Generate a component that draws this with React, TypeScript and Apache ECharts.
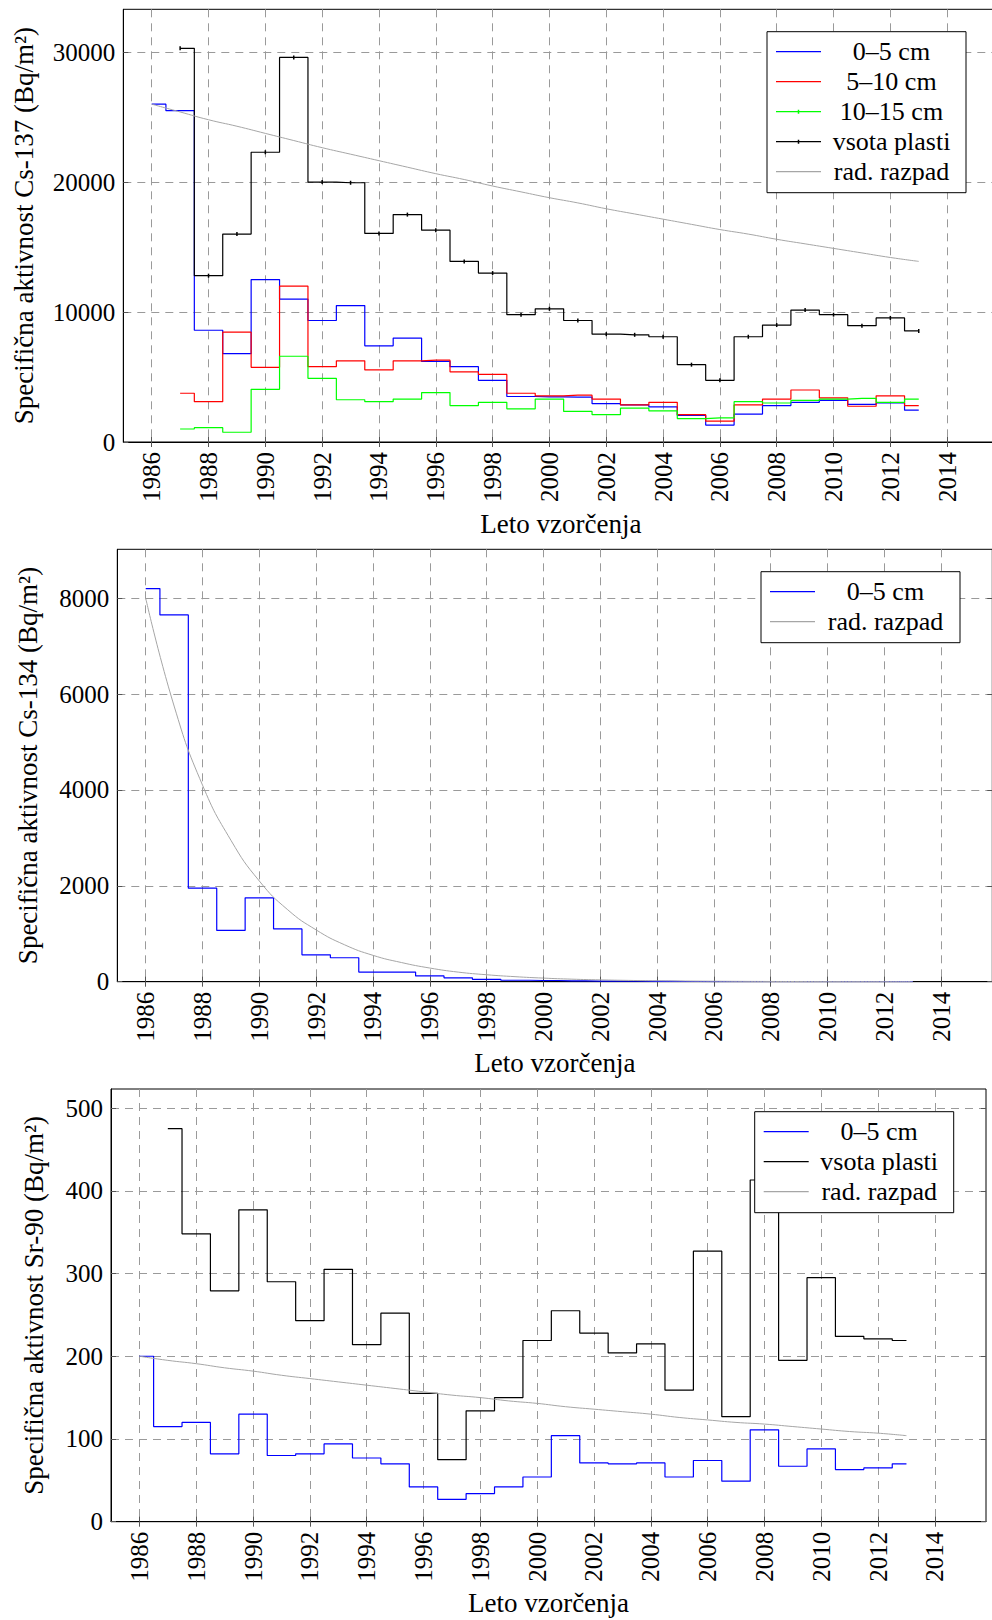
import React, { useEffect, useRef } from 'react';
import * as echarts from 'echarts';

const FONT = '"Liberation Serif", "Times New Roman", serif';

const years86 = [1986, 1987, 1988, 1989, 1990, 1991, 1992, 1993, 1994, 1995, 1996, 1997, 1998, 1999, 2000, 2001, 2002, 2003, 2004, 2005, 2006, 2007, 2008, 2009, 2010, 2011, 2012, 2013];
const years87 = [1987, 1988, 1989, 1990, 1991, 1992, 1993, 1994, 1995, 1996, 1997, 1998, 1999, 2000, 2001, 2002, 2003, 2004, 2005, 2006, 2007, 2008, 2009, 2010, 2011, 2012, 2013];

// Cs-137 (Bq/m2)
const cs137_0_5 = [26000, 25500, 8600, 6800, 12500, 11000, 9350, 10500, 7400, 8000, 6200, 5800, 4750, 3500, 3470, 3460, 2950, 2850, 2700, 2050, 1300, 2150, 2800, 3050, 3200, 2900, 3000, 2450];
const cs137_5_10 = [3750, 3100, 8450, 5750, 12000, 5800, 6250, 5550, 6250, 6300, 5400, 5200, 3750, 3550, 3600, 3300, 2850, 3050, 2100, 1600, 2850, 3300, 4000, 3400, 2750, 3550, 2800];
const cs137_10_15 = [1000, 1100, 750, 4050, 6600, 4900, 3250, 3100, 3300, 3800, 2800, 3050, 2550, 3300, 2350, 2100, 2600, 2400, 1800, 1850, 3100, 3000, 3200, 3300, 3350, 3050, 3300];
const cs137_sum = [30300, 12800, 16000, 22300, 29600, 20000, 19950, 16050, 17500, 16300, 13900, 13000, 9800, 10250, 9350, 8300, 8250, 8100, 5950, 4750, 8100, 9000, 10150, 9800, 8950, 9550, 8550];
const cs137_decay = [26000, 25400, 24800, 24300, 23750, 23200, 22650, 22150, 21650, 21150, 20650, 20200, 19700, 19250, 18800, 18400, 17950, 17550, 17150, 16750, 16350, 16000, 15600, 15250, 14900, 14550, 14200, 13900];

// Cs-134 (Bq/m2)
const cs134_0_5 = [8200, 7650, 1950, 1070, 1750, 1100, 560, 500, 200, 200, 120, 80, 50, 30, 25, 18, 12, 9, 6, 4, 3, 2, 2, 1, 1, 1, 1, 1];
const cs134_decay = [8000, 5750, 4100, 2950, 2100, 1500, 1080, 770, 550, 400, 285, 200, 145, 105, 75, 53, 38, 27, 19, 14, 10, 7, 5, 3.5, 2.5, 2, 1.3, 1];

// Sr-90 (Bq/m2)
const sr90_0_5 = [200, 115, 120, 82, 130, 80, 82, 94, 77, 70, 42, 27, 34, 42, 54, 104, 71, 70, 71, 54, 74, 49, 111, 67, 88, 63, 65, 70];
const sr90_sum = [475, 348, 279, 377, 290, 243, 305, 214, 252, 155, 75, 134, 150, 219, 255, 228, 204, 215, 159, 327, 127, 413, 195, 295, 224, 221, 219];
const sr90_decay = [200, 195, 191, 186, 182, 177, 173, 169, 165, 161, 157, 153, 150, 146, 143, 139, 136, 133, 130, 126, 123, 120, 118, 115, 112, 109, 107, 104];

const xTicks = [1986, 1988, 1990, 1992, 1994, 1996, 1998, 2000, 2002, 2004, 2006, 2008, 2010, 2012, 2014];
const yTicks137 = [0, 10000, 20000, 30000];
const yTicks134 = [0, 2000, 4000, 6000, 8000];
const yTicksSr = [0, 100, 200, 300, 400, 500];

const X_MIN = 1985;
const X_MAX = 2015.8;

const pairs = (xs: number[], ys: number[]) => xs.map((x, i) => [x, ys[i]]);

const gridLine = { show: true, lineStyle: { color: '#9a9a9a', width: 1, type: [8, 6] } };
const tickStyle = { color: '#555', width: 1 };
const labelFont = { fontSize: 25, fontFamily: FONT, color: '#000' };
const nameFont = { fontSize: 27, fontFamily: FONT, color: '#000' };

const PLAIN_ICON = 'path://M0,1.4H45V2.6H0Z';
const MARK_ICON = 'path://M0,1.4H45V2.6H0Z M21.75,0H23.25V4H21.75Z';

const xBottom = (gridIndex: number) => ({
  type: 'value', gridIndex, min: X_MIN, max: X_MAX, position: 'bottom',
  axisLine: { show: true, onZero: false, lineStyle: { color: '#000', width: 1 } },
  axisTick: { show: true, inside: true, length: 5, lineStyle: tickStyle, customValues: xTicks },
  axisLabel: { show: true, rotate: 90, margin: 10, ...labelFont, customValues: xTicks, formatter: (v: number) => String(v) },
  splitLine: gridLine,
  name: 'Leto vzorčenja', nameLocation: 'middle', nameGap: 68, nameTextStyle: nameFont,
});
const xTop = (gridIndex: number) => ({
  type: 'value', gridIndex, min: X_MIN, max: X_MAX, position: 'top',
  axisLine: { show: false },
  axisTick: { show: true, inside: true, length: 5, lineStyle: tickStyle, customValues: xTicks },
  axisLabel: { show: false },
  splitLine: { show: false },
});
const yLeft = (gridIndex: number, max: number, ticks: number[], name: string, nameGap: number) => ({
  type: 'value', gridIndex, min: 0, max, position: 'left',
  axisLine: { show: true, onZero: false, lineStyle: { color: '#000', width: 1 } },
  axisTick: { show: true, inside: true, length: 5, lineStyle: tickStyle, customValues: ticks },
  axisLabel: { show: true, margin: 8, ...labelFont, customValues: ticks, formatter: (v: number) => String(v) },
  splitLine: gridLine,
  name, nameLocation: 'middle', nameRotate: 90, nameGap, nameTextStyle: nameFont,
});
const yRight = (gridIndex: number, max: number, ticks: number[]) => ({
  type: 'value', gridIndex, min: 0, max, position: 'right',
  axisLine: { show: false },
  axisTick: { show: true, inside: true, length: 5, lineStyle: tickStyle, customValues: ticks },
  axisLabel: { show: false },
  splitLine: { show: false },
});

const legendAt = (left: number, top: number, items: { name: string; icon: string }[]) => ({
  show: true, orient: 'vertical', left, top,
  selectedMode: false,
  backgroundColor: '#fff', borderColor: '#000', borderWidth: 1,
  padding: [7, 9, 8, 9],
  itemGap: 4, itemWidth: 45, itemHeight: 4,
  itemStyle: { borderWidth: 0 },
  data: items,
  formatter: (n: string) => `{t|${n}}`,
  textStyle: { rich: { t: { width: 131, align: 'center', fontSize: 26, fontFamily: FONT, color: '#000', lineHeight: 25 } } },
});

const stepLine = (name: string, color: string, data: number[][], xi: number, yi: number, marks = false) => ({
  type: 'line', name, xAxisIndex: xi, yAxisIndex: yi, data, step: 'middle',
  symbol: marks ? 'rect' : 'none', symbolSize: [1.5, 4], showSymbol: marks,
  itemStyle: { color },
  lineStyle: { color, width: 1.2 },
  z: 3,
});
const decayLine = (data: number[][], xi: number, yi: number) => ({
  type: 'line', name: 'rad. razpad', xAxisIndex: xi, yAxisIndex: yi, data,
  smooth: true, symbol: 'none', showSymbol: false,
  itemStyle: { color: '#a6a6a6' },
  lineStyle: { color: '#a6a6a6', width: 1 },
  z: 4,
});

export default function App() {
  const ref = useRef<HTMLDivElement>(null);
  useEffect(() => {
    if (!ref.current) return;
    const chart = echarts.init(ref.current, null, { renderer: 'svg' });
    const gridBase = { show: true, borderColor: '#000', borderWidth: 1, backgroundColor: 'transparent', containLabel: false, outerBoundsMode: 'none' };
    chart.setOption({
      animation: false,
      backgroundColor: '#fff',
      textStyle: { fontFamily: FONT },
      grid: [
        { ...gridBase, left: 123.3, top: 9.3, width: 875, height: 432.7 },
        { ...gridBase, left: 117.3, top: 549.3, width: 875, height: 432.4 },
        { ...gridBase, left: 111, top: 1089, width: 875, height: 432.7 },
      ],
      xAxis: [xBottom(0), xTop(0), xBottom(1), xTop(1), xBottom(2), xTop(2)],
      yAxis: [
        yLeft(0, 33300, yTicks137, 'Specifična aktivnost Cs-137 (Bq/m²)', 86), yRight(0, 33300, yTicks137),
        yLeft(1, 9020, yTicks134, 'Specifična aktivnost Cs-134 (Bq/m²)', 76), yRight(1, 9020, yTicks134),
        yLeft(2, 523, yTicksSr, 'Specifična aktivnost Sr-90 (Bq/m²)', 64), yRight(2, 523, yTicksSr),
      ],
      legend: [
        legendAt(767, 31.7, [
          { name: '0–5 cm', icon: PLAIN_ICON },
          { name: '5–10 cm', icon: PLAIN_ICON },
          { name: '10–15 cm', icon: MARK_ICON },
          { name: 'vsota plasti', icon: MARK_ICON },
          { name: 'rad. razpad', icon: PLAIN_ICON },
        ]),
        legendAt(761, 571.7, [
          { name: '0–5 cm', icon: PLAIN_ICON },
          { name: 'rad. razpad', icon: PLAIN_ICON },
        ]),
        legendAt(754.7, 1111.7, [
          { name: '0–5 cm', icon: PLAIN_ICON },
          { name: 'vsota plasti', icon: PLAIN_ICON },
          { name: 'rad. razpad', icon: PLAIN_ICON },
        ]),
      ],
      series: [
        stepLine('0–5 cm', '#0000ff', pairs(years86, cs137_0_5), 0, 0),
        stepLine('5–10 cm', '#ff0000', pairs(years87, cs137_5_10), 0, 0),
        stepLine('10–15 cm', '#00ff00', pairs(years87, cs137_10_15), 0, 0),
        stepLine('vsota plasti', '#000000', pairs(years87, cs137_sum), 0, 0, true),
        decayLine(pairs(years86, cs137_decay), 0, 0),

        stepLine('0–5 cm', '#0000ff', pairs(years86, cs134_0_5), 2, 2),
        decayLine(pairs(years86, cs134_decay), 2, 2),

        stepLine('0–5 cm', '#0000ff', pairs(years86, sr90_0_5), 4, 4),
        stepLine('vsota plasti', '#000000', pairs(years87, sr90_sum), 4, 4),
        decayLine(pairs(years86, sr90_decay), 4, 4),
      ],
    });
    return () => chart.dispose();
  }, []);
  return <div ref={ref} style={{ position: 'absolute', left: 0, top: 0, width: 992, height: 1620 }} />;
}
